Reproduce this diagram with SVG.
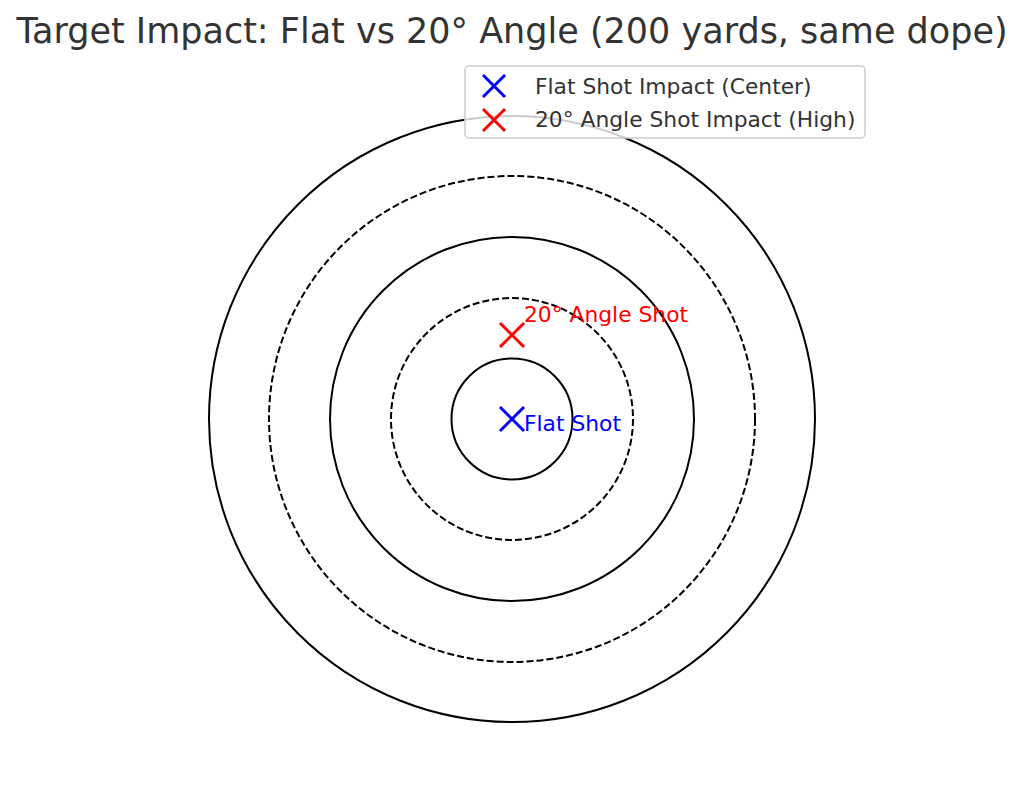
<svg xmlns="http://www.w3.org/2000/svg" width="1024" height="799" viewBox="0 0 1024 799">
<style>
text{font-family:"DejaVu Sans",sans-serif}
.ring{fill:none;stroke:#000;stroke-width:2}
.dash{stroke-dasharray:7,3}
.title{font-size:35px;fill:#333}
.leg{font-size:21.8px;fill:#333}
.lbl{font-size:21.8px}
.xb{stroke:#0000ff;stroke-width:3;fill:none}
.xr{stroke:#ff0000;stroke-width:3;fill:none}
</style>
<rect width="1024" height="799" fill="#fff"/>
<text class="title" x="512" y="43" text-anchor="middle">Target Impact: Flat vs 20° Angle (200 yards, same dope)</text>
<g id="rings">
<circle class="ring" cx="512" cy="419" r="60.5"/>
<circle class="ring dash" cx="512" cy="419" r="121"/>
<circle class="ring" cx="512" cy="419" r="182"/>
<circle class="ring dash" cx="512" cy="419" r="243"/>
<circle class="ring" cx="512" cy="419" r="303"/>
</g>
<g id="flat">
<path class="xb" d="M500,407 L524,431 M524,407 L500,431"/>
<text class="lbl" x="524" y="431" fill="#0000ff">Flat Shot</text>
</g>
<g id="angle">
<path class="xr" d="M500,323 L524,347 M524,323 L500,347"/>
<text class="lbl" x="524" y="322" fill="#ff0000">20° Angle Shot</text>
</g>
<g id="legend">
<rect x="465" y="66" width="400" height="72" rx="4" fill="#fff" fill-opacity="0.8" stroke="#cccccc" stroke-width="1.5"/>
<path class="xb" d="M483,75 L505,97 M505,75 L483,97"/>
<text class="leg" x="535" y="94">Flat Shot Impact (Center)</text>
<path class="xr" d="M483,109 L505,131 M505,109 L483,131"/>
<text class="leg" x="535" y="127">20° Angle Shot Impact (High)</text>
</g>
</svg>
